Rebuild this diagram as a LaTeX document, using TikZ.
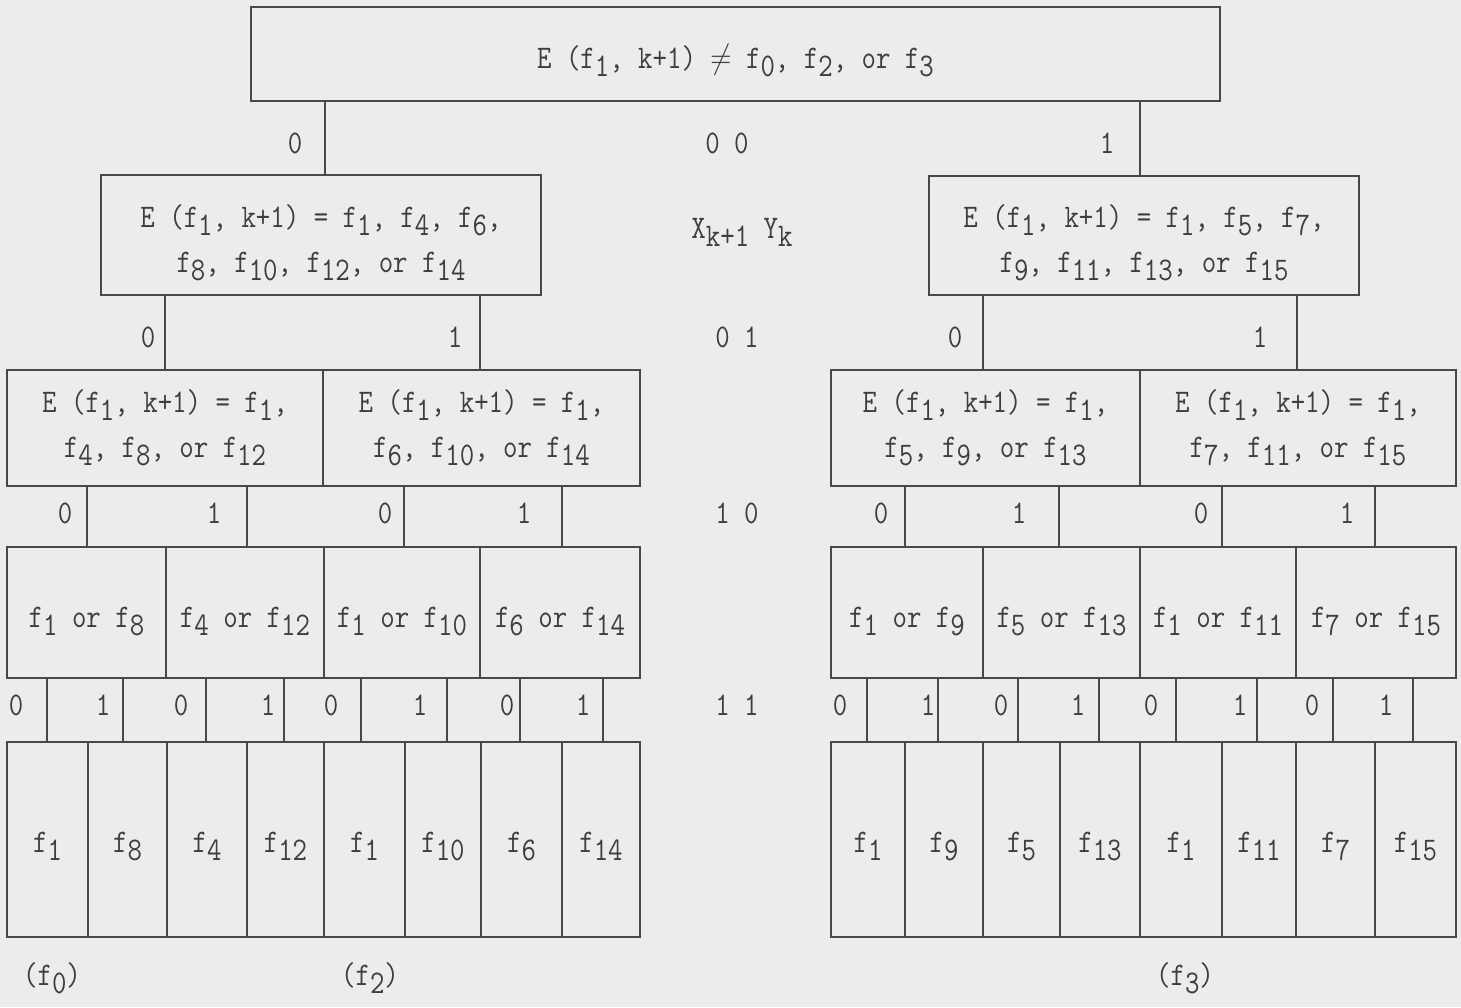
\documentclass[tikz,border=0pt]{standalone}
\usepackage{fontspec}
\definecolor{bg}{RGB}{236,236,236}
\definecolor{ink}{RGB}{62,62,62}
\definecolor{linec}{RGB}{72,72,72}
\newcommand\tf{\fontsize{16.5}{22.5}\selectfont\ttfamily}
\newcommand\sbx[1]{\raisebox{-4pt}{#1}}
\newcommand\nar[1]{\scalebox{0.85}[1]{#1}}
\newcommand\rows[1]{\nar{\begin{tabular}{@{}c@{}}#1\end{tabular}}}
\tikzset{
  box/.style={draw=linec, line width=0.6pt, inner sep=0pt, outer sep=0pt},
  txt/.style={align=center, text=ink, font=\tf, inner sep=0pt},
  hl/.style={draw=linec, line width=1.3pt},
  conn/.style={draw=linec, line width=0.6pt},
  lab/.style={text=ink, font=\tf, inner sep=0pt}
}
% name, x1, y1, x2, y2, text offset (px, down), text
\newcommand\cellbox[7]{%
  \node[box, anchor=north west, minimum width={(#4-#2)*0.5pt}, minimum height={(#5-#3)*0.5pt}] (#1) at (#2,#3) {};
  \node[txt] (#1t) at ([yshift={-(#6)*0.5pt}]#1.center) {\rows{#7}};
  \draw[hl] (#1.north west) -- (#1.north east) (#1.south west) -- (#1.south east);}
\newcommand\link[3]{%
  \coordinate (lk) at (#3,0);
  \draw[conn] (#1.south -| lk) -- (#2.north -| lk);}
\begin{document}
\begin{tikzpicture}[x=0.5pt,y=-0.5pt]
\fill[bg] (0,0) rectangle (1461,1007);
\useasboundingbox (0,0) rectangle (1461,1007);

% level 1
\cellbox{T}{251}{7}{1220}{101}{5}{E (f\sbx{1}, k+1) $\neq$ f\sbx{0}, f\sbx{2}, or f\sbx{3}}

% level 2
\cellbox{La}{101}{175}{541}{295}{5.5}{E (f\sbx{1}, k+1) = f\sbx{1}, f\sbx{4}, f\sbx{6},\\ f\sbx{8}, f\sbx{10}, f\sbx{12}, or f\sbx{14}}
\cellbox{Lb}{929}{176}{1359}{295}{5.5}{E (f\sbx{1}, k+1) = f\sbx{1}, f\sbx{5}, f\sbx{7},\\ f\sbx{9}, f\sbx{11}, f\sbx{13}, or f\sbx{15}}

% level 3
\cellbox{Ma}{7}{370}{323}{486}{-2}{E (f\sbx{1}, k+1) = f\sbx{1},\\ f\sbx{4}, f\sbx{8}, or f\sbx{12}}
\cellbox{Mb}{323}{370}{640}{486}{-2}{E (f\sbx{1}, k+1) = f\sbx{1},\\ f\sbx{6}, f\sbx{10}, or f\sbx{14}}
\cellbox{Mc}{831}{370}{1140}{486}{-2}{E (f\sbx{1}, k+1) = f\sbx{1},\\ f\sbx{5}, f\sbx{9}, or f\sbx{13}}
\cellbox{Md}{1140}{370}{1456}{486}{-2}{E (f\sbx{1}, k+1) = f\sbx{1},\\ f\sbx{7}, f\sbx{11}, or f\sbx{15}}

% level 4
\cellbox{Na}{7}{547}{166}{678}{5.5}{f\sbx{1} or f\sbx{8}}
\cellbox{Nb}{166}{547}{324}{678}{5.5}{f\sbx{4} or f\sbx{12}}
\cellbox{Nc}{324}{547}{480}{678}{5.5}{f\sbx{1} or f\sbx{10}}
\cellbox{Nd}{480}{547}{640}{678}{5.5}{f\sbx{6} or f\sbx{14}}
\cellbox{Ne}{831}{547}{983}{678}{5.5}{f\sbx{1} or f\sbx{9}}
\cellbox{Nf}{983}{547}{1140}{678}{5.5}{f\sbx{5} or f\sbx{13}}
\cellbox{Ng}{1140}{547}{1296}{678}{5.5}{f\sbx{1} or f\sbx{11}}
\cellbox{Nh}{1296}{547}{1456}{678}{5.5}{f\sbx{7} or f\sbx{15}}

% level 5
\cellbox{Pa}{7}{742}{88}{937}{4}{f\sbx{1}}
\cellbox{Pb}{88}{742}{167}{937}{4}{f\sbx{8}}
\cellbox{Pc}{167}{742}{247}{937}{4}{f\sbx{4}}
\cellbox{Pd}{247}{742}{324}{937}{4}{f\sbx{12}}
\cellbox{Pe}{324}{742}{405}{937}{4}{f\sbx{1}}
\cellbox{Pf}{405}{742}{481}{937}{4}{f\sbx{10}}
\cellbox{Pg}{481}{742}{562}{937}{4}{f\sbx{6}}
\cellbox{Ph}{562}{742}{640}{937}{4}{f\sbx{14}}
\cellbox{Qa}{831}{742}{905}{937}{4}{f\sbx{1}}
\cellbox{Qb}{905}{742}{983}{937}{4}{f\sbx{9}}
\cellbox{Qc}{983}{742}{1060}{937}{4}{f\sbx{5}}
\cellbox{Qd}{1060}{742}{1140}{937}{4}{f\sbx{13}}
\cellbox{Qe}{1140}{742}{1222}{937}{4}{f\sbx{1}}
\cellbox{Qf}{1222}{742}{1296}{937}{4}{f\sbx{11}}
\cellbox{Qg}{1296}{742}{1375}{937}{4}{f\sbx{7}}
\cellbox{Qh}{1375}{742}{1456}{937}{4}{f\sbx{15}}

% connectors
\link{T}{La}{325}
\link{T}{Lb}{1140}
\link{La}{Ma}{165}
\link{La}{Mb}{480}
\link{Lb}{Mc}{983}
\link{Lb}{Md}{1297}
\link{Ma}{Na}{87}
\link{Ma}{Nb}{247}
\link{Mb}{Nc}{404}
\link{Mb}{Nd}{562}
\link{Mc}{Ne}{905}
\link{Mc}{Nf}{1059}
\link{Md}{Ng}{1222}
\link{Md}{Nh}{1375}
\link{Na}{Pa}{47}
\link{Na}{Pb}{123}
\link{Nb}{Pc}{206}
\link{Nb}{Pd}{284}
\link{Nc}{Pe}{361}
\link{Nc}{Pf}{447}
\link{Nd}{Pg}{520}
\link{Nd}{Ph}{603}
\link{Ne}{Qa}{867}
\link{Ne}{Qb}{938}
\link{Nf}{Qc}{1018}
\link{Nf}{Qd}{1099}
\link{Ng}{Qe}{1176}
\link{Ng}{Qf}{1257}
\link{Nh}{Qg}{1333}
\link{Nh}{Qh}{1413}

% branch labels
\node[lab] (l1a) at (295,143) {\nar{0}};
\node[lab] (l1b) at (1107,143) {\nar{1}};
\node[lab] (l2a) at (148,337) {\nar{0}};
\node[lab] (l2b) at (455,337) {\nar{1}};
\node[lab] (l2c) at (955,337) {\nar{0}};
\node[lab] (l2d) at (1260,337) {\nar{1}};
\node[lab] (l3a) at (65,513) {\nar{0}};
\node[lab] (l3b) at (214,513) {\nar{1}};
\node[lab] (l3c) at (385,513) {\nar{0}};
\node[lab] (l3d) at (524,513) {\nar{1}};
\node[lab] (l3e) at (881,513) {\nar{0}};
\node[lab] (l3f) at (1019,513) {\nar{1}};
\node[lab] (l3g) at (1201,513) {\nar{0}};
\node[lab] (l3h) at (1347,513) {\nar{1}};
\foreach \x/\t [count=\i] in {16/0,103/1,181/0,268/1,331/0,420/1,507/0,583/1,840/0,928/1,1001/0,1078/1,1151/0,1240/1,1312/0,1386/1}
  \node[lab] (l4\i) at (\x,705) {\nar{\t}};

% middle column
\node[lab] (m1) at (727,143) {\nar{0 0}};
\node[lab] (m2) at (742,232) {\nar{X\sbx{k+1} Y\sbx{k}}};
\node[lab] (m3) at (737,337) {\nar{0 1}};
\node[lab] (m4) at (737,513) {\nar{1 0}};
\node[lab] (m5) at (737,705) {\nar{1 1}};

% bottom labels
\node[lab] (b0) at (52,978) {\nar{(f\sbx{0})}};
\node[lab] (b2) at (370,978) {\nar{(f\sbx{2})}};
\node[lab] (b3) at (1185,978) {\nar{(f\sbx{3})}};
\end{tikzpicture}
\end{document}
